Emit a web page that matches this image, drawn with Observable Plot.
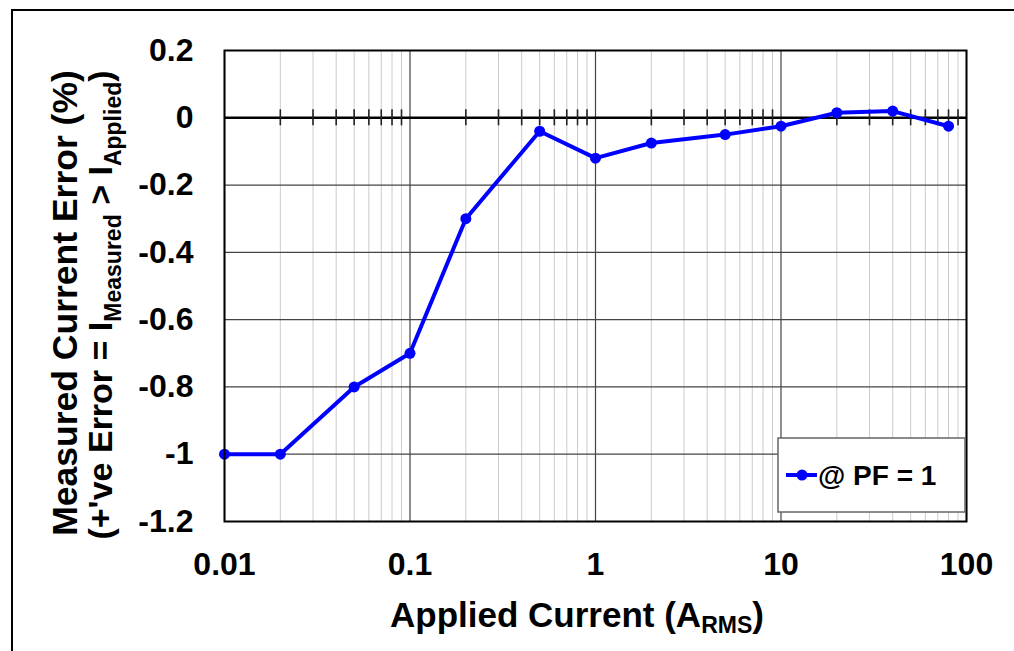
<!DOCTYPE html>
<html><head><meta charset="utf-8">
<script src="https://cdn.jsdelivr.net/npm/d3@7"></script>
<script src="https://cdn.jsdelivr.net/npm/@observablehq/plot@0.6"></script>
<style>
html,body{margin:0;padding:0;background:#fff;}
#wrap{position:relative;width:1014px;height:651px;overflow:hidden;}
#chart{position:absolute;left:0;top:0;}
#frame{position:absolute;left:11px;top:9px;width:1100px;height:800px;border:2px solid #000;box-sizing:border-box;pointer-events:none;}
</style></head><body>
<div id="wrap"><div id="chart"></div><div id="frame"></div></div>
<script>
// Data
const currents = [0.01, 0.02, 0.05, 0.1, 0.2, 0.5, 1, 2, 5, 10, 20, 40, 80];
const errors = [-1, -1, -0.8, -0.7, -0.3, -0.04, -0.12, -0.075, -0.05, -0.025, 0.015, 0.02, -0.025];
const xTicks = [0.01, 0.1, 1, 10, 100];
const xTickLabels = ["0.01", "0.1", "1", "10", "100"];
const yTicks = [0.2, 0, -0.2, -0.4, -0.6, -0.8, -1, -1.2];
const yTickLabels = ["0.2", "0", "-0.2", "-0.4", "-0.6", "-0.8", "-1", "-1.2"];
const minorMultipliers = [2, 3, 4, 5, 6, 7, 8, 9];
const seriesLabel = "@ PF = 1";

const data = currents.map((c, i) => ({current: c, error: errors[i]}));
const minorX = xTicks.slice(0, -1).flatMap(d => minorMultipliers.map(k => +(d * k).toPrecision(3)));
const xTickData = xTicks.map((v, i) => ({v, label: xTickLabels[i]}));

const FONT = "'Liberation Sans', Arial, Helvetica, sans-serif";
const BLUE = "#0000ff";

const chart = Plot.plot({
  width: 1014, height: 651,
  marginLeft: 224, marginRight: 48, marginTop: 50, marginBottom: 130,
  style: {fontFamily: FONT, fontSize: "32px", fontWeight: "bold", color: "#000", background: "transparent", overflow: "visible"},
  x: {type: "log", domain: [0.01, 100], axis: null},
  y: {domain: [-1.2, 0.2]},
  marks: [
    Plot.ruleX(minorX, {stroke: "#cccccc", strokeWidth: 1}),
    Plot.ruleX(xTicks, {stroke: "#444", strokeWidth: 1.2}),
    Plot.ruleY(yTicks, {stroke: "#444", strokeWidth: 1.2}),
    Plot.ruleY([0], {stroke: "#000", strokeWidth: 2.5}),
    Plot.ruleX(minorX, {x: d => d, y1: 0, y2: 0, insetTop: -8, insetBottom: -8, stroke: "#222", strokeWidth: 1.6}),
    Plot.line(data, {x: "current", y: "error", stroke: BLUE, strokeWidth: 4}),
    Plot.dot(data, {x: "current", y: "error", r: 5.5, fill: BLUE, stroke: "none"}),
    Plot.frame({stroke: "#000", strokeWidth: 2}),
    Plot.text(xTickData, {x: "v", y: -1.2, dy: 43, text: "label", fontSize: 32, fontWeight: "bold", fill: "#000", textAnchor: "middle"}),
    Plot.axisY(yTicks, {tickSize: 0, tickPadding: 31, tickFormat: (d, i) => yTickLabels[i], label: null, fontSize: 32, fontWeight: "bold"})
  ]
});
document.getElementById("chart").appendChild(chart);

const svg = d3.select(chart);
// X axis label
const xl = svg.append("text")
  .attr("x", 577).attr("y", 627)
  .attr("text-anchor", "middle")
  .style("font-family", FONT).style("font-weight", "bold").style("font-size", "35px").attr("fill", "#000");
xl.append("tspan").text("Applied Current (A");
xl.append("tspan").attr("dy", 6).style("font-size", "23px").text("RMS");
xl.append("tspan").attr("dy", -6).text(")");

// Y axis labels (two lines)
svg.append("text")
  .attr("transform", "translate(77,303) rotate(-90)")
  .attr("text-anchor", "middle")
  .style("font-family", FONT).style("font-weight", "bold").style("font-size", "35.5px").attr("fill", "#000")
  .text("Measured Current Error (%)");
const yl2 = svg.append("text")
  .attr("transform", "translate(112,305) rotate(-90)")
  .attr("text-anchor", "middle")
  .style("font-family", FONT).style("font-weight", "bold").style("font-size", "34px").attr("fill", "#000");
yl2.append("tspan").text("(+'ve Error = I");
yl2.append("tspan").attr("dy", 9).style("font-size", "23px").text("Measured");
yl2.append("tspan").attr("dy", -9).text(" > I");
yl2.append("tspan").attr("dy", 9).style("font-size", "23px").text("Applied");
yl2.append("tspan").attr("dy", -9).text(")");

// Legend
const lg = svg.append("g").attr("text-anchor", "start");
lg.append("rect").attr("x", 778).attr("y", 438).attr("width", 187).attr("height", 74)
  .attr("fill", "#fff").attr("stroke", "#666").attr("stroke-width", 1.5);
lg.append("line").attr("x1", 786).attr("x2", 817).attr("y1", 475).attr("y2", 475)
  .attr("stroke", BLUE).attr("stroke-width", 4);
lg.append("circle").attr("cx", 802).attr("cy", 475).attr("r", 5.5).attr("fill", BLUE);
lg.append("text").attr("x", 818).attr("y", 485).attr("text-anchor", "start")
  .style("font-family", FONT).style("font-weight", "bold").style("font-size", "28px").attr("fill", "#000")
  .text(seriesLabel);
</script>
</body></html>
